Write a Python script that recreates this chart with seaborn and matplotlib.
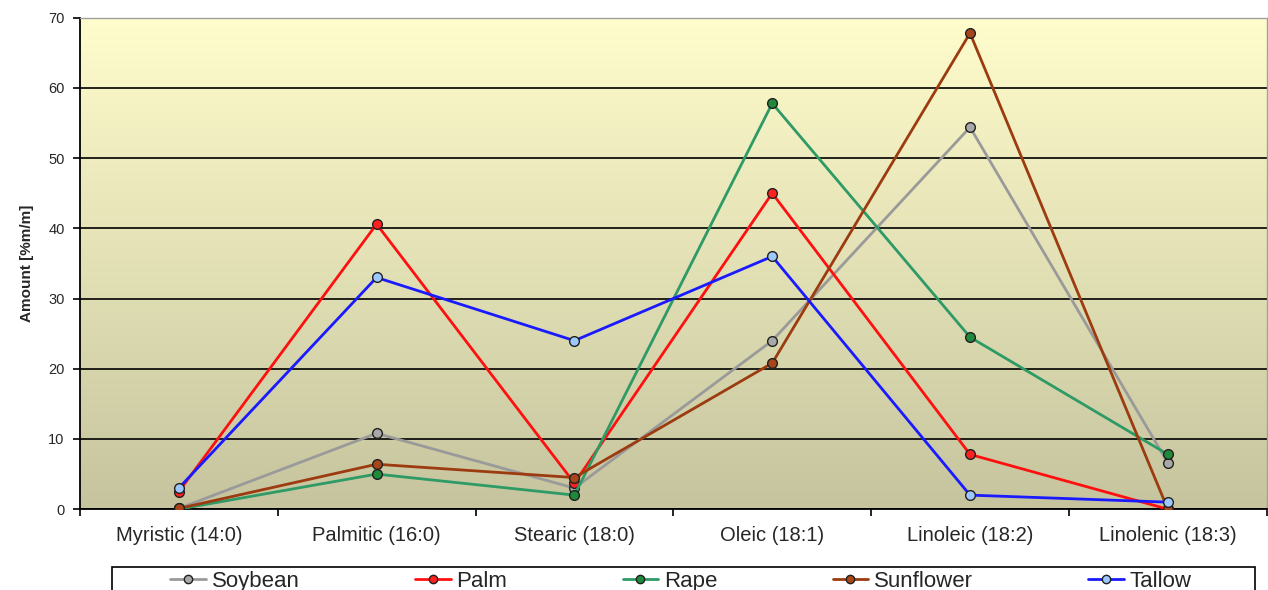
import numpy as np
import pandas as pd
import matplotlib.pyplot as plt
import seaborn as sns
from matplotlib.lines import Line2D
from matplotlib.patches import Rectangle
from matplotlib.colors import LinearSegmentedColormap

# ---- data ----
ACIDS = ["Myristic (14:0)", "Palmitic (16:0)", "Stearic (18:0)",
         "Oleic (18:1)", "Linoleic (18:2)", "Linolenic (18:3)"]
SOYBEAN = [0.1, 10.8, 3.0, 24.0, 54.4, 6.6]
PALM = [2.5, 40.6, 3.7, 45.0, 7.8, 0.0]
RAPE = [0.0, 5.0, 2.0, 57.8, 24.5, 7.8]
SUNFLOWER = [0.1, 6.4, 4.5, 20.8, 67.8, 0.0]
TALLOW = [3.0, 33.0, 24.0, 36.0, 2.0, 1.0]

OILS = ["Soybean", "Palm", "Rape", "Sunflower", "Tallow"]
LINE_COLORS = ["#9a9a9a", "#ff1010", "#2e9a66", "#9c3b10", "#1a1aff"]
FACE_COLORS = ["#a8a8a8", "#ff2020", "#1f8a3a", "#a8461a", "#9cc8ff"]

df = pd.DataFrame({
    "acid": ACIDS * 5,
    "oil": np.repeat(OILS, len(ACIDS)),
    "amount": SOYBEAN + PALM + RAPE + SUNFLOWER + TALLOW,
})

sns.set_style("white")
plt.rcParams["font.family"] = ["Liberation Sans", "DejaVu Sans"]

fig = plt.figure(figsize=(12.68, 5.9), dpi=100)
ax = fig.add_axes([0.063, 0.137, 0.936, 0.833])

# gradient background (light yellow at top -> khaki at bottom)
cmap = LinearSegmentedColormap.from_list("bg", ["#c6c49e", "#fffdcc"])
grad = np.linspace(0, 1, 256).reshape(-1, 1)
ax.imshow(grad, cmap=cmap, aspect="auto", origin="lower",
          extent=(-0.5, 5.5, 0, 70), zorder=0)

for oil, lc, fc in zip(OILS, LINE_COLORS, FACE_COLORS):
    sub = df[df["oil"] == oil]
    sns.lineplot(data=sub, x="acid", y="amount", ax=ax, color=lc,
                 linewidth=2, marker="o", markersize=7,
                 markerfacecolor=fc, markeredgecolor="#202020",
                 markeredgewidth=1.0, sort=False, zorder=3, legend=False)

ax.set_xlim(-0.5, 5.5)
ax.set_ylim(0, 70)
ax.set_yticks(range(0, 71, 10))
ax.set_xticks(range(len(ACIDS)))
ax.set_xticklabels(ACIDS, fontsize=14.5)
ax.set_xticks(np.arange(-0.5, 5.6, 1), minor=True)
ax.tick_params(axis="x", which="major", length=0, pad=12)
ax.tick_params(axis="x", which="minor", length=5, width=1.2, color="black",
               direction="out", bottom=True)
ax.tick_params(axis="y", length=5, width=1.2, color="black", direction="out",
               left=True, labelsize=10.5, pad=6)
ax.set_xlabel("")
ax.set_ylabel("Amount [%m/m]", fontsize=11, fontweight="bold", labelpad=10)

ax.grid(axis="y", color="black", linewidth=1.2, zorder=1)
ax.grid(axis="x", visible=False)
ax.set_axisbelow(True)
for side in ["left", "bottom"]:
    ax.spines[side].set_color("black")
    ax.spines[side].set_linewidth(1.3)
for side in ["top", "right"]:
    ax.spines[side].set_color("#a0a0a0")
    ax.spines[side].set_linewidth(1.0)

# legend box (runs off the bottom edge like the reference)
fig.patches.append(Rectangle((0.088, -0.05), 0.902, 0.089,
                             transform=fig.transFigure, facecolor="white",
                             edgecolor="black", linewidth=1.2))
handles = [Line2D([0], [0], color=lc, linewidth=2, marker="o", markersize=6,
                  markerfacecolor=fc, markeredgecolor="#202020")
           for lc, fc in zip(LINE_COLORS, FACE_COLORS)]
fig.legend(handles, OILS, loc="center", bbox_to_anchor=(0.537, 0.014),
           ncol=5, fontsize=16, frameon=False, handlelength=1.6,
           handletextpad=0.25, columnspacing=5.2, borderaxespad=0,
           borderpad=0)

fig.savefig("out.png", dpi=100)
